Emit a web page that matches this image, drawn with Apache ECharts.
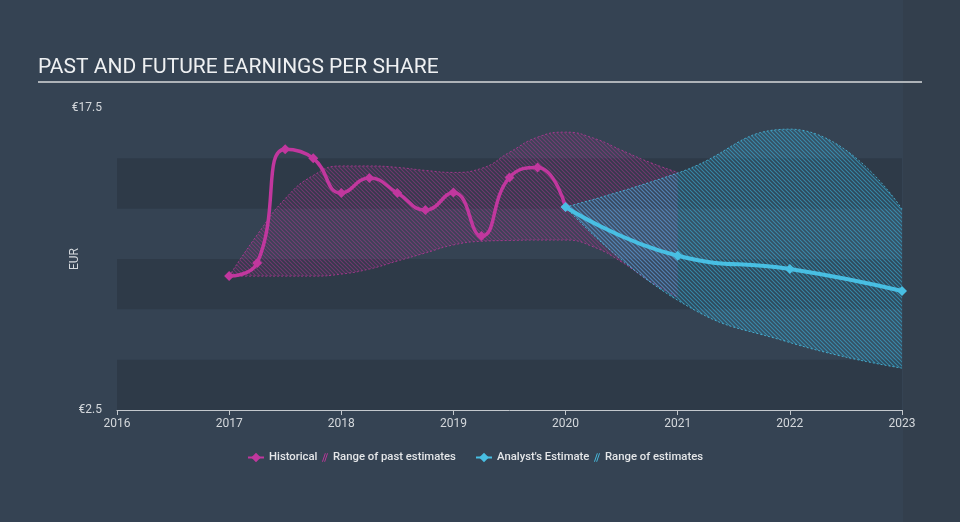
<!DOCTYPE html>
<html>
<head>
<meta charset="utf-8">
<script src="https://cdn.jsdelivr.net/npm/echarts@6/dist/echarts.min.js"></script>
<style>html,body{margin:0;padding:0;background:#354353;}#c{width:960px;height:522px;}</style>
</head>
<body>
<div id="c"></div>
<script>
// ---- data ----
// quarterly categories 2016 .. 2023 (used by historical series and past range)
const quarters = [];
for (let y = 2016; y <= 2023; y++) for (let q = 0; q < 4; q++) if (y < 2023 || q === 0) quarters.push(y + (q ? ' Q' + (q + 1) : ''));
// yearly categories (used by estimates, and the visible axis)
const years = ['2016', '2017', '2018', '2019', '2020', '2021', '2022', '2023'];

// Historical EPS, quarterly from 2017 to 2020 ('-' = no value)
const histEPS = ['-', '-', '-', '-',
  9.15, 9.8, 15.45, 15.0,
  13.28, 14.02, 13.28, 12.43,
  13.3, 11.14, 14.05, 14.55,
  12.58];
// Range of past estimates, quarterly from 2017 to 2021
const pastRangeLow = ['-', '-', '-', '-',
  9.15, 9.15, 9.15, 9.15,
  9.25, 9.5, 9.9, 10.3,
  10.7, 10.88, 10.92, 10.94,
  10.94, 10.6, 9.85, 8.9,
  8.1];
const pastRangeHigh = ['-', '-', '-', '-',
  9.15, 11.2, 13.0, 14.15,
  14.62, 14.62, 14.55, 14.4,
  14.3, 14.5, 15.3, 16.05,
  16.3, 16.0, 15.4, 14.8,
  14.3];

// Analyst estimates, yearly
const estEPS       = ['-', '-', '-', '-', 12.58, 10.16, 9.5, 8.41];
const estRangeLow  = ['-', '-', '-', '-', 12.58, 7.95, 5.85, 4.58];
const estRangeHigh = ['-', '-', '-', '-', 12.58, 14.27, 16.45, 12.48];

const yTickLabels = {2.5: '€2.5', 17.5: '€17.5'};

// ---- styling helpers ----
const PINK = '#c1379e';
const BLUE = '#48bfe3';
function hatch(line, base) {
  const c = document.createElement('canvas');
  c.width = 4; c.height = 4;
  const g = c.getContext('2d');
  g.fillStyle = base; g.fillRect(0, 0, 4, 4);
  g.strokeStyle = line; g.lineWidth = 1.1;
  g.beginPath();
  g.moveTo(-1, -1); g.lineTo(5, 5);
  g.moveTo(-1, 3); g.lineTo(1, 5);
  g.moveTo(3, -1); g.lineTo(5, 1);
  g.stroke();
  return {image: c, repeat: 'repeat'};
}
const pinkHatch = hatch('rgba(193,55,158,0.42)', 'rgba(193,55,158,0.05)');
const blueHatch = hatch('rgba(60,180,220,0.58)', 'rgba(60,180,220,0.12)');
const hatchIcon = 'path://M3,10L6.5,0L7.6,0L4.1,10Z M5.6,10L9.1,0L10.2,0L6.7,10Z';

const diff = (hi, lo) => hi.map((v, i) => (v === '-' ? '-' : +(v - lo[i]).toFixed(3)));

const chart = echarts.init(document.getElementById('c'), null, {renderer: 'canvas'});
const txt = '#d4d8dc';
const legendText = {color: '#e4e6e8', fontSize: 11.3, fontFamily: 'Roboto', fontWeight: 500};
const legendBase = {top: 452, padding: 0, textStyle: legendText};

chart.setOption({
  animation: false,
  backgroundColor: '#354353',
  textStyle: {fontFamily: 'Roboto'},
  graphic: [
    {type: 'rect', z: -10, shape: {x: 903, y: 0, width: 57, height: 522}, style: {fill: '#333f4d'}},
    {type: 'text', left: 38, top: 57, style: {text: 'PAST AND FUTURE EARNINGS PER SHARE', fill: '#eef0f2', font: '21px Roboto'}},
    {type: 'line', shape: {x1: 38, y1: 82, x2: 922, y2: 82}, style: {stroke: '#aeb3b8', lineWidth: 2}}
  ],
  grid: {left: 117, right: 58, top: 108, bottom: 112, containLabel: false},
  xAxis: [
    {type: 'category', data: quarters, boundaryGap: false, show: false},
    {type: 'category', data: years, boundaryGap: false, position: 'bottom',
     axisLine: {show: true, lineStyle: {color: '#c3c8cd', width: 1}},
     axisTick: {show: true, length: 5, alignWithLabel: true, lineStyle: {color: '#c3c8cd'}},
     axisLabel: {color: txt, fontSize: 12, margin: 8, interval: 0},
     splitLine: {show: false}}
  ],
  yAxis: {
    type: 'value', min: 2.5, max: 17.5, interval: 2.5,
    name: 'EUR', nameLocation: 'middle', nameGap: 36, nameRotate: 90, nameMoveOverlap: false,
    nameTextStyle: {color: txt, fontSize: 12},
    axisLine: {show: false}, axisTick: {show: false},
    axisLabel: {color: txt, fontSize: 12, margin: 15, formatter: v => yTickLabels[v] || ''},
    splitLine: {show: false},
    splitArea: {show: true, areaStyle: {color: ['#2e3a48', 'rgba(0,0,0,0)']}}
  },
  legend: [
    Object.assign({left: 247, itemWidth: 16, itemHeight: 12, data: ['Historical']}, legendBase),
    Object.assign({left: 322, itemWidth: 6, itemHeight: 9, data: [{name: 'Range of past estimates', icon: hatchIcon}]}, legendBase),
    Object.assign({left: 475, itemWidth: 16, itemHeight: 12, data: ["Analyst's Estimate"]}, legendBase),
    Object.assign({left: 594, itemWidth: 6, itemHeight: 9, data: [{name: 'Range of estimates', icon: hatchIcon}]}, legendBase)
  ],
  series: [
    {name: 'pastLow', type: 'line', xAxisIndex: 0, stack: 'past', smooth: true, symbol: 'none', z: 1,
     data: pastRangeLow,
     lineStyle: {color: PINK, width: 1, type: [2, 2], opacity: 0.75}},
    {name: 'Range of past estimates', type: 'line', xAxisIndex: 0, stack: 'past', smooth: true, symbol: 'none', z: 1,
     color: PINK,
     data: diff(pastRangeHigh, pastRangeLow),
     lineStyle: {color: PINK, width: 1, type: [2, 2], opacity: 0.75},
     areaStyle: {color: pinkHatch, opacity: 1}},
    {name: 'estLow', type: 'line', xAxisIndex: 1, stack: 'est', smooth: true, symbol: 'none', z: 2,
     data: estRangeLow,
     lineStyle: {color: BLUE, width: 1, type: [2, 2], opacity: 0.8}},
    {name: 'Range of estimates', type: 'line', xAxisIndex: 1, stack: 'est', smooth: true, symbol: 'none', z: 2,
     color: BLUE,
     data: diff(estRangeHigh, estRangeLow),
     lineStyle: {color: BLUE, width: 1, type: [2, 2], opacity: 0.8},
     areaStyle: {color: blueHatch, opacity: 1}},
    {name: 'Historical', type: 'line', xAxisIndex: 0, smooth: true, z: 5,
     color: PINK, symbol: 'diamond', symbolSize: 10,
     data: histEPS,
     lineStyle: {color: PINK, width: 3.5},
     itemStyle: {color: PINK}},
    {name: "Analyst's Estimate", type: 'line', xAxisIndex: 1, smooth: true, z: 6,
     color: BLUE, symbol: 'diamond', symbolSize: 10,
     data: estEPS,
     lineStyle: {color: BLUE, width: 4},
     itemStyle: {color: BLUE}}
  ]
});
</script>
</body>
</html>
